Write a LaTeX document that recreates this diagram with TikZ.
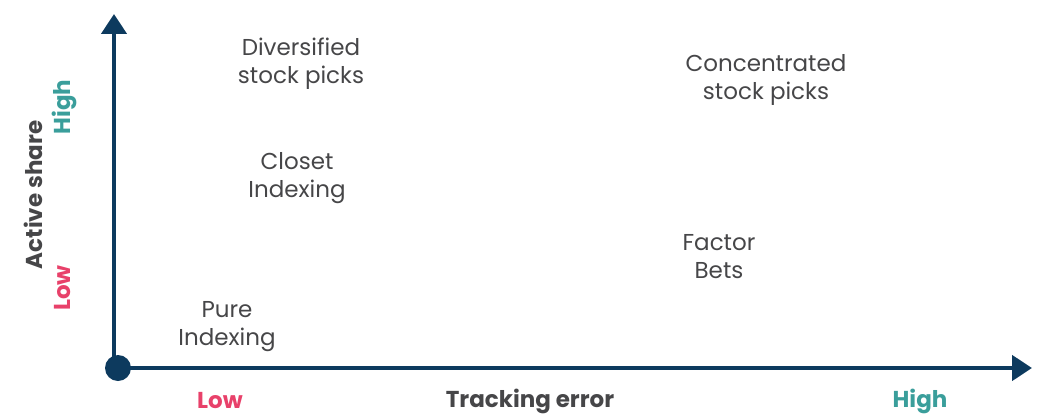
\documentclass[tikz,border=0pt]{standalone}
\usepackage{fontspec}
\setmainfont{Poppins}
\usetikzlibrary{arrows.meta}

\definecolor{axisblue}{HTML}{0D3A5E}
\definecolor{textgray}{HTML}{464648}
\definecolor{lowred}{HTML}{E8416A}
\definecolor{highteal}{HTML}{3A9E9B}

\tikzset{
  quadlabel/.style={align=center, text=textgray, font=\fontsize{23}{28}\selectfont},
  axistitle/.style={text=textgray, font=\fontsize{23}{26}\selectfont\bfseries},
  lowtag/.style={text=lowred, font=\fontsize{23}{26}\selectfont\bfseries},
  hightag/.style={text=highteal, font=\fontsize{23}{26}\selectfont\bfseries},
  axisline/.style={draw=axisblue, line width=4.5pt, -{Triangle[length=20pt,width=25pt]}}
}

\begin{document}
\begin{tikzpicture}[x=1pt, y=1pt, every node/.style={inner sep=0pt}]
  \useasboundingbox (0,0) rectangle (1040,416);

  % Origin and axes
  \node[circle, fill=axisblue, minimum size=26pt] (orig) at (118,48) {};
  \coordinate (ybase) at (114,48);
  \coordinate (ytop) at (114,402);
  \coordinate (xend) at (1032,48);
  \draw[axisline] (ybase) -- (ytop);
  \draw[axisline] (orig.center) -- (xend);

  % Axis titles
  \node[axistitle] (xtitle) at (530,15) {Tracking error};
  \node[axistitle, rotate=90] (ytitle) at (33,221) {Active share};

  % Low / High tags
  \node[lowtag] (xlow) at (220,15) {Low};
  \node[hightag] (xhigh) at (920,15) {High};
  \node[lowtag, rotate=90] (ylow) at (63,128) {Low};
  \node[hightag, rotate=90] (yhigh) at (64,309) {High};

  % Quadrant labels
  \node[quadlabel] (divers) at (301,352) {Diversified\\stock picks};
  \node[quadlabel] (concen) at (766,336) {Concentrated\\stock picks};
  \node[quadlabel] (closet) at (297,238) {Closet\\Indexing};
  \node[quadlabel] (factor) at (719,159) {Factor\\Bets};
  \node[quadlabel] (pure) at (227,89) {Pure\\Indexing};
\end{tikzpicture}
\end{document}
